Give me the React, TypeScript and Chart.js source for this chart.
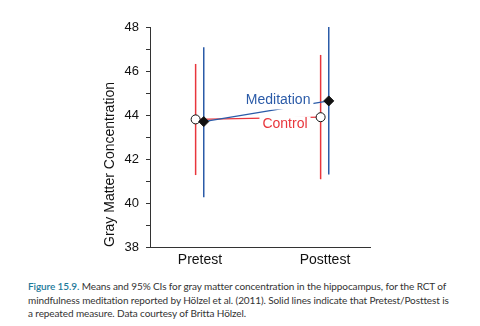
import React, { useEffect, useRef } from "react";
import { Chart, registerables } from "chart.js";
Chart.register(...registerables);

const timepoints = ["Pretest", "Posttest"];
const controlMeans = [43.8, 43.9];
const controlLow = [41.27, 41.08];
const controlHigh = [46.32, 46.73];
const meditationMeans = [43.7, 44.64];
const meditationLow = [40.26, 41.3];
const meditationHigh = [47.08, 48.0];
const yMin = 38;
const yMax = 48;

const RED = "#e8363c";
const BLUE = "#2b5ba8";
const AXIS = "#333333";
const FONT = "'Liberation Sans', Arial, sans-serif";

const CTRL_OFF = -0.035;
const MED_OFF = 0.03;

const seriesLabels = [
  { text: "Meditation", color: BLUE, x: 0.625, y: 44.66 },
  { text: "Control", color: RED, x: 0.68, y: 43.58 },
];

const labelPlugin = {
  id: "seriesLabels",
  afterDatasetsDraw(chart: any) {
    const { ctx, scales } = chart;
    ctx.save();
    ctx.font = `14px ${FONT}`;
    ctx.textAlign = "center";
    ctx.textBaseline = "middle";
    for (const l of seriesLabels) {
      const px = scales.x.getPixelForValue(l.x);
      const py = scales.y.getPixelForValue(l.y);
      const w = ctx.measureText(l.text).width + 6;
      ctx.fillStyle = "#ffffff";
      ctx.fillRect(px - w / 2, py - 8, w, 17);
      ctx.fillStyle = l.color;
      ctx.fillText(l.text, px, py);
    }
    ctx.restore();
  },
};

function ciDatasets(low: number[], high: number[], off: number, color: string) {
  return timepoints.map((_, i) => ({
    type: "line" as const,
    data: [
      { x: i + off, y: low[i] },
      { x: i + off, y: high[i] },
    ],
    borderColor: color,
    borderWidth: 1.5,
    pointRadius: 0,
    fill: false,
    order: 2,
  }));
}

export default function App() {
  const ref = useRef<HTMLCanvasElement>(null);
  useEffect(() => {
    if (!ref.current) return;
    const chart = new Chart(ref.current, {
      type: "scatter",
      data: {
        datasets: [
          ...ciDatasets(controlLow, controlHigh, CTRL_OFF, RED),
          ...ciDatasets(meditationLow, meditationHigh, MED_OFF, BLUE),
          {
            type: "line",
            data: controlMeans.map((v, i) => ({ x: i + CTRL_OFF, y: v })),
            borderColor: RED,
            borderWidth: 1.3,
            pointStyle: "circle",
            pointRadius: 4.5,
            pointBackgroundColor: "#ffffff",
            pointBorderColor: "#111111",
            pointBorderWidth: 1,
            fill: false,
            order: 1,
          },
          {
            type: "line",
            data: meditationMeans.map((v, i) => ({ x: i + MED_OFF, y: v })),
            borderColor: BLUE,
            borderWidth: 1.3,
            pointStyle: "rectRot",
            pointRadius: 5,
            pointBackgroundColor: "#111111",
            pointBorderColor: "#111111",
            pointBorderWidth: 1,
            fill: false,
            order: 0,
          },
        ] as any,
      },
      options: {
        animation: false,
        responsive: false,
        maintainAspectRatio: false,
        layout: { padding: { left: 97, top: 27, right: 110, bottom: 0 } },
        plugins: {
          legend: { display: false },
          tooltip: { enabled: false },
        },
        scales: {
          x: {
            type: "linear",
            min: -0.4,
            max: 1.36,
            afterFit: (s: any) => {
              s.height = 25;
            },
            afterBuildTicks: (s: any) => {
              s.ticks = timepoints.map((_, i) => ({ value: i }));
            },
            ticks: {
              callback: (v: any) => timepoints[v] ?? "",
              color: "#111111",
              font: { family: FONT, size: 14 },
              padding: 5,
              maxRotation: 0,
            },
            grid: { display: false, drawTicks: false },
            border: { display: true, color: AXIS, width: 1 },
          },
          y: {
            type: "linear",
            min: yMin,
            max: yMax,
            afterFit: (s: any) => {
              s.width = 53;
            },
            ticks: {
              stepSize: 1,
              callback: (v: any) => (Number(v) % 2 === 0 ? String(v) : ""),
              color: "#111111",
              font: { family: FONT, size: 13 },
              padding: 7,
              autoSkip: false,
            },
            grid: {
              drawOnChartArea: false,
              drawTicks: true,
              tickLength: 4,
              color: AXIS,
            },
            border: { display: true, color: AXIS, width: 1 },
            title: {
              display: true,
              text: "Gray Matter Concentration",
              align: "start",
              color: "#111111",
              font: { family: FONT, size: 14 },
              padding: { top: 5, bottom: 0 },
            },
          },
        },
      } as any,
      plugins: [labelPlugin],
    });
    return () => chart.destroy();
  }, []);

  return (
    <div style={{ position: "fixed", left: 0, top: 0, width: 480, height: 326, background: "#fff" }}>
      <canvas ref={ref} width={480} height={272} style={{ display: "block", width: 480, height: 272 }} />
      <div
        style={{
          position: "absolute",
          left: 28,
          top: 280,
          width: 440,
          fontFamily: "Lato, 'Open Sans', sans-serif",
          fontSize: 10,
          letterSpacing: "-0.1px",
          lineHeight: "13.5px",
          color: "#333333",
          whiteSpace: "nowrap",
        }}
      >
        <span style={{ color: "#1e7a9b", fontWeight: 600 }}>Figure 15.9.</span> Means and 95% CIs for gray matter concentration in the hippocampus, for the RCT of
        <br />
        mindfulness meditation reported by Hölzel et al. (2011). Solid lines indicate that Pretest/Posttest is
        <br />
        a repeated measure. Data courtesy of Britta Hölzel.
      </div>
    </div>
  );
}
